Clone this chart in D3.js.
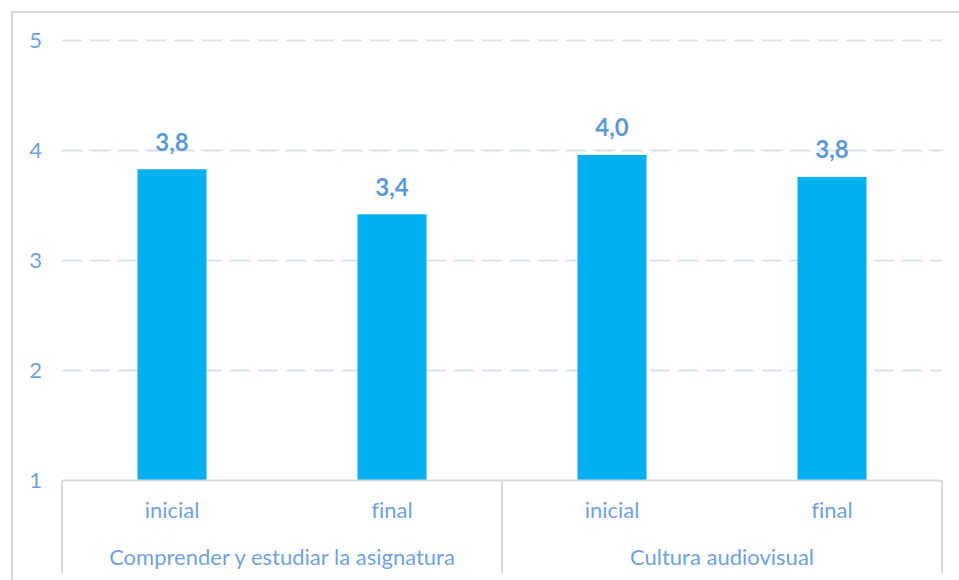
<!DOCTYPE html>
<html>
<head>
<meta charset="utf-8">
<script src="https://cdn.jsdelivr.net/npm/d3@7"></script>
<style>
  body { margin: 0; background: #fff; }
  svg { display: block; font-family: Lato, "Open Sans", sans-serif; font-variant-ligatures: none; }
</style>
</head>
<body>
<svg id="chart" width="959" height="580"></svg>
<script>
var groups = ["Comprender y estudiar la asignatura", "Cultura audiovisual"];
var phases = ["inicial", "final"];
// average score per group, in the order of phases
var comprender = [3.83, 3.42];
var cultura = [3.96, 3.76];
var yTicks = [1, 2, 3, 4, 5];

var data = [];
groups.forEach(function(g, i) {
  var vals = i === 0 ? comprender : cultura;
  phases.forEach(function(p, j) { data.push({group: g, phase: p, value: vals[j]}); });
});

var svg = d3.select("#chart"),
    margin = {top: 40.5, right: 17, bottom: 99.5, left: 62},
    width = +svg.attr("width") - margin.left - margin.right,
    height = +svg.attr("height") - margin.top - margin.bottom;

// outer frame
svg.append("rect")
    .attr("x", 12).attr("y", 12)
    .attr("width", 960).attr("height", 600)
    .attr("fill", "none")
    .attr("stroke", "#d9d9d9")
    .attr("stroke-width", 2);

var g = svg.append("g").attr("transform", "translate(" + margin.left + "," + margin.top + ")");

var x0 = d3.scaleBand().domain(groups).range([0, width]).padding(0);
var x1 = d3.scaleBand().domain(phases).range([0, x0.bandwidth()])
    .paddingInner(0.686).paddingOuter(0.343);
var y = d3.scaleLinear().domain([1, 5]).range([height, 0]);

var fmt = function(v) { return d3.format(".1f")(v).replace(".", ","); };

// gridlines
g.selectAll(".grid")
  .data(yTicks.slice(1))
  .enter().append("line")
    .attr("class", "grid")
    .attr("x1", 0).attr("x2", width)
    .attr("y1", function(d) { return y(d); })
    .attr("y2", function(d) { return y(d); })
    .attr("stroke", "#d9e1f2")
    .attr("stroke-width", 2)
    .attr("stroke-dasharray", "20,8");

// y tick labels
g.selectAll(".ytick")
  .data(yTicks)
  .enter().append("text")
    .attr("class", "ytick")
    .attr("x", -20)
    .attr("y", function(d) { return y(d); })
    .attr("dy", "0.36em")
    .attr("text-anchor", "end")
    .attr("fill", "#6fa3dc")
    .style("font-size", "22px")
    .text(function(d) { return d; });

// bars
g.selectAll(".bar")
  .data(data)
  .enter().append("rect")
    .attr("class", "bar")
    .attr("x", function(d) { return x0(d.group) + x1(d.phase); })
    .attr("y", function(d) { return y(d.value); })
    .attr("width", x1.bandwidth())
    .attr("height", function(d) { return height - y(d.value); })
    .attr("fill", "#00b0f0");

// value labels
g.selectAll(".val")
  .data(data)
  .enter().append("text")
    .attr("class", "val")
    .attr("x", function(d) { return x0(d.group) + x1(d.phase) + x1.bandwidth() / 2; })
    .attr("y", function(d) { return y(d.value) - 18.5; })
    .attr("text-anchor", "middle")
    .attr("fill", "#5b9bd5")
    .style("font-size", "24px")
    .style("font-weight", "bold")
    .text(function(d) { return fmt(d.value); });

// multi-level category axis
var axis = g.append("g").attr("transform", "translate(0," + height + ")");

axis.append("line")
    .attr("x1", 0).attr("x2", width)
    .attr("stroke", "#d9d9d9").attr("stroke-width", 2);

axis.selectAll(".sep")
  .data(groups.map(function(d) { return x0(d); }).concat([width]))
  .enter().append("line")
    .attr("class", "sep")
    .attr("x1", function(d) { return d; }).attr("x2", function(d) { return d; })
    .attr("y1", 0).attr("y2", 93)
    .attr("stroke", "#d9d9d9").attr("stroke-width", 2);

axis.selectAll(".phase")
  .data(data)
  .enter().append("text")
    .attr("class", "phase")
    .attr("x", function(d) { return x0(d.group) + x1(d.phase) + x1.bandwidth() / 2; })
    .attr("y", 37.5)
    .attr("text-anchor", "middle")
    .attr("fill", "#6fa3dc")
    .style("font-size", "22px")
    .text(function(d) { return d.phase; });

axis.selectAll(".group")
  .data(groups)
  .enter().append("text")
    .attr("class", "group")
    .attr("x", function(d) { return x0(d) + x0.bandwidth() / 2; })
    .attr("y", 84.5)
    .attr("text-anchor", "middle")
    .attr("fill", "#6fa3dc")
    .style("font-size", "22px")
    .text(function(d) { return d; });
</script>
</body>
</html>
